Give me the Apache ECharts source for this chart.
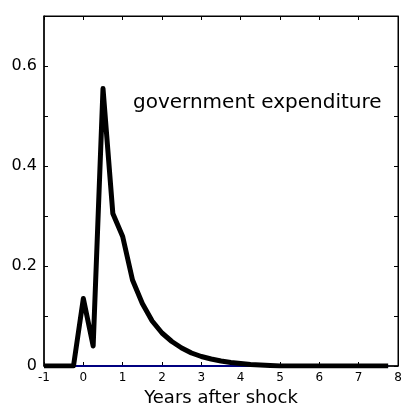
<!DOCTYPE html>
<html>
<head>
<meta charset="utf-8">
<script src="https://cdn.jsdelivr.net/npm/echarts@6/dist/echarts.min.js"></script>
<style>
  html, body { margin: 0; padding: 0; background: #fff; }
  #chart { width: 401px; height: 407px; }
</style>
</head>
<body>
<div id="chart"></div>
<script>
// Quarterly impulse response of government expenditure
const quarters = [
  -1, -0.75, -0.5, -0.25, 0, 0.25, 0.5, 0.75, 1, 1.25, 1.5, 1.75,
  2, 2.25, 2.5, 2.75, 3, 3.25, 3.5, 3.75, 4, 4.25, 4.5, 4.75,
  5, 5.25, 5.5, 5.75, 6, 6.25, 6.5, 6.75, 7, 7.25, 7.5, 7.75
];
const govExpenditure = [
  0, 0, 0, 0, 0.135, 0.04, 0.555, 0.305, 0.259, 0.172, 0.125, 0.09,
  0.066, 0.049, 0.036, 0.026, 0.019, 0.014, 0.010, 0.007, 0.005, 0.003, 0.002, 0.001,
  0, 0, 0, 0, 0, 0, 0, 0, 0, 0, 0, 0
];
const zeroLine = [[-1, 0], [7.75, 0]];
const yTickLabels = ['0', '0.2', '0.4', '0.6'];
const seriesLabel = 'government expenditure';
const xAxisTitle = 'Years after shock';

const font = 'DejaVu Sans, Liberation Sans, Arial, sans-serif';

const chart = echarts.init(document.getElementById('chart'), null, { renderer: 'canvas' });

const tickStyle = { show: true, inside: true, length: 4, lineStyle: { color: '#000', width: 1 } };

chart.setOption({
  animation: false,
  backgroundColor: '#fff',
  grid: {
    left: 44, top: 16, right: 3, bottom: 41,
    outerBoundsMode: 'none', containLabel: false,
    show: true, borderColor: '#000', borderWidth: 1
  },
  xAxis: [
    {
      type: 'value', min: -1, max: 8, interval: 1,
      axisLine: { show: true, onZero: false, lineStyle: { color: '#000', width: 1.5 } },
      axisTick: tickStyle,
      splitLine: { show: false },
      axisLabel: { color: '#000', fontFamily: font, fontSize: 12, margin: 6,
        formatter: v => String(Math.round(v)) },
      name: xAxisTitle, nameLocation: 'middle', nameGap: 23,
      nameTextStyle: { color: '#000', fontFamily: font, fontSize: 18 }
    },
    {
      type: 'value', position: 'top', min: -1, max: 8, interval: 1,
      axisLine: { show: true, onZero: false, lineStyle: { color: '#000', width: 1 } },
      axisTick: tickStyle, axisLabel: { show: false }, splitLine: { show: false }
    }
  ],
  yAxis: [
    {
      type: 'value', min: 0, max: 0.7, interval: 0.1,
      axisLine: { show: true, onZero: false, lineStyle: { color: '#000', width: 1.5 } },
      axisTick: tickStyle,
      splitLine: { show: false },
      axisLabel: {
        color: '#000', fontFamily: font, fontSize: 16, margin: 7,
        formatter: v => {
          const s = String(Math.round(v * 10) / 10);
          return yTickLabels.includes(s) ? s : '';
        }
      }
    },
    {
      type: 'value', position: 'right', min: 0, max: 0.7, interval: 0.1,
      axisLine: { show: true, onZero: false, lineStyle: { color: '#000', width: 1 } },
      axisTick: tickStyle, axisLabel: { show: false }, splitLine: { show: false }
    }
  ],
  series: [
    {
      type: 'line', data: zeroLine, symbol: 'none', silent: true, z: 2,
      lineStyle: { color: '#000080', width: 2 }
    },
    {
      type: 'line', data: quarters.map((q, i) => [q, govExpenditure[i]]),
      symbol: 'none', silent: true, z: 3,
      lineStyle: { color: '#000', width: 5, join: 'round', cap: 'butt' }
    }
  ],
  graphic: [
    {
      type: 'text', left: 133, top: 93,
      style: { text: seriesLabel, fill: '#000', font: '20px ' + font }
    }
  ]
});
</script>
</body>
</html>
